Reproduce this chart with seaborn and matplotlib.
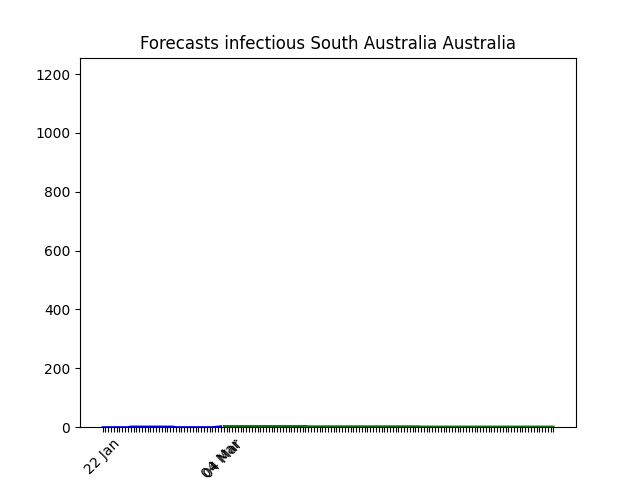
import matplotlib
matplotlib.use("Agg")
import matplotlib.pyplot as plt
import seaborn as sns
import pandas as pd

# observed infectious counts, 22 Jan .. 04 Mar (one value per day)
observed = [0, 0, 0, 0, 0, 0, 0, 0, 0, 0,
            2, 2, 2, 2, 2, 2, 2, 2, 2, 2,
            2, 2, 2, 2, 2, 2, 0, 0, 0, 0,
            0, 0, 0, 0, 0, 0, 0, 0, 0, 0,
            1, 2, 3]

# forecast infectious counts, starting 04 Mar
forecast = [4, 4, 4, 4, 4, 4, 4, 4, 4, 4,
            4, 4, 4, 4, 4, 4, 4, 4, 4, 4,
            4, 4, 4, 4, 4, 4, 4, 4, 4, 4,
            3, 3, 3, 3, 3, 3, 3, 3, 3, 3,
            3, 3, 3, 3, 3, 3, 3, 3, 3, 3,
            3, 3, 3, 3, 3, 3, 3, 3, 3, 3,
            3, 3, 3, 3, 3, 3, 3, 3, 3, 3,
            2, 2, 2, 2, 2, 2, 2, 2, 2, 2,
            2, 2, 2, 2, 2, 2, 2, 2, 2, 2,
            2, 2, 2, 2, 2, 2, 2, 2, 2, 2,
            2, 2, 2, 2, 2, 2, 2, 2, 2, 2,
            2, 2, 2, 2, 2, 2, 2, 2]

tick_labels = {0: "22 Jan", 42: "04 Mar", 43: "04 Mar"}
y_top = 1256

obs_df = pd.DataFrame({"day": range(len(observed)), "value": observed})
fc_df = pd.DataFrame({"day": range(len(observed), len(observed) + len(forecast)),
                      "value": forecast})

fig, ax = plt.subplots(figsize=(6.4, 4.8), dpi=100)
sns.lineplot(data=obs_df, x="day", y="value", color="blue", ax=ax)
sns.lineplot(data=fc_df, x="day", y="value", color="green", ax=ax)

n_days = len(observed) + len(forecast)
ax.set_xticks(range(n_days))
ax.set_xticklabels([tick_labels.get(i, "") for i in range(n_days)], rotation=45)
ax.set_ylim(0, y_top)
ax.set_xlabel("")
ax.set_ylabel("")
ax.set_title("Forecasts infectious South Australia Australia")

plt.savefig("out.png")
